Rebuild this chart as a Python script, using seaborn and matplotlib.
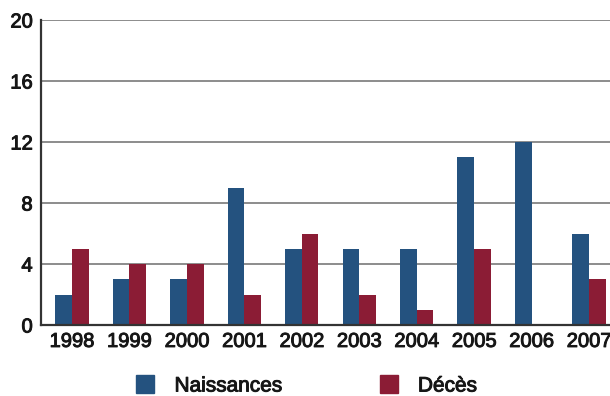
import matplotlib
matplotlib.use("Agg")
import matplotlib.pyplot as plt
import matplotlib.patheffects as pe
from matplotlib.lines import Line2D
import seaborn as sns
import pandas as pd

years = ["1998", "1999", "2000", "2001", "2002", "2003", "2004", "2005", "2006", "2007"]
naissances = [2, 3, 3, 9, 5, 5, 5, 11, 12, 6]
deces = [5, 4, 4, 2, 6, 2, 1, 5, 0, 3]
series_names = ["Naissances", "Décès"]
colors = ["#24527f", "#8b1c35"]
y_ticks = [0, 4, 8, 12, 16, 20]

df = pd.DataFrame({
    "Année": years * 2,
    "Valeur": naissances + deces,
    "Série": [series_names[0]] * len(years) + [series_names[1]] * len(years),
})

sns.set_theme(style="white")
plt.rcParams["font.family"] = ["Liberation Sans", "DejaVu Sans"]

text_color = "#161616"
heavier = [pe.withStroke(linewidth=0.7, foreground=text_color)]

fig = plt.figure(figsize=(6.10, 3.96), dpi=100)
ax = fig.add_axes([41 / 610, 71 / 396, 579 / 610, 305 / 396])

sns.barplot(data=df, x="Année", y="Valeur", hue="Série", palette=colors,
            width=0.58, gap=0, saturation=1, ax=ax, legend=False,
            edgecolor="none", linewidth=0)

ax.set_xlim(-0.54, 9.54)
ax.set_ylim(0, 20)
ax.set_yticks(y_ticks)
ax.set_xlabel("")
ax.set_ylabel("")
ax.yaxis.grid(True, color="#8c8c8c", linewidth=1.4)
ax.set_axisbelow(True)
for side in ["top", "right"]:
    ax.spines[side].set_visible(False)
for side in ["left", "bottom"]:
    ax.spines[side].set_color("#333333")
    ax.spines[side].set_linewidth(1.6)
ax.tick_params(axis="both", length=0, labelsize=14.5, colors=text_color)
ax.tick_params(axis="y", pad=6)
ax.tick_params(axis="x", pad=5)
for lab in ax.get_xticklabels() + ax.get_yticklabels():
    lab.set_path_effects(heavier)

handles = [Line2D([], [], linestyle="none", marker="s", markersize=13,
                  markerfacecolor=c, markeredgecolor=c) for c in colors]
leg = fig.legend(handles, series_names, loc="center", bbox_to_anchor=(306 / 610, 1 - 386 / 396),
                 ncol=2, frameon=False, fontsize=15, handlelength=1.0, handletextpad=0.9,
                 columnspacing=4.6, labelcolor=text_color)
for t in leg.get_texts():
    t.set_path_effects(heavier)

fig.savefig("out.png", dpi=100)
